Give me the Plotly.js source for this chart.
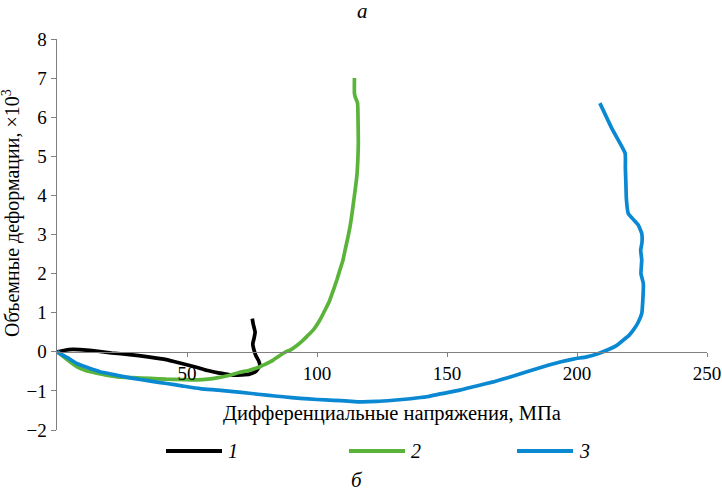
<!DOCTYPE html>
<html>
<head>
<meta charset="utf-8">
<script src="https://cdn.plot.ly/plotly-3.0.1.min.js"></script>
<style>html,body{margin:0;padding:0;background:#fff;}#chart{width:722px;height:497px;}</style>
</head>
<body>
<div id="chart"></div>
<script>
const seriesNames = ['1', '2', '3'];
const colors = ['#000000', '#5ab43a', '#0a88d2'];

const x1 = [0, 3, 6, 10, 15, 21, 28, 35, 42, 48, 54, 58, 62, 65, 68, 71, 74, 76.5, 78, 77.5, 76.5, 75.8, 75.3, 75.8, 76.2, 75.5, 75.1];
const y1 = [0, 0.04, 0.06, 0.05, 0.02, -0.03, -0.07, -0.13, -0.2, -0.3, -0.4, -0.48, -0.54, -0.57, -0.6, -0.59, -0.57, -0.5, -0.36, -0.22, -0.1, 0.04, 0.2, 0.35, 0.5, 0.7, 0.85];

const x2 = [0, 3, 7.6, 11, 15.3, 19, 23, 29, 35.8, 42, 48.6, 54, 58, 62, 66.5, 70, 74, 77, 80, 83, 86, 88, 89.6, 92, 94.7, 96.5, 98.6, 101, 103.1, 104.8, 106.3, 107.6, 108.8, 110, 110.8, 111.8, 112.7, 113.4, 114, 114.7, 115.3, 115.7, 115.9, 115.8, 115.6, 114.8, 114.4, 114.4];
const y2 = [0, -0.15, -0.38, -0.48, -0.55, -0.6, -0.64, -0.66, -0.68, -0.7, -0.71, -0.72, -0.7, -0.66, -0.6, -0.53, -0.47, -0.41, -0.32, -0.22, -0.08, 0, 0.04, 0.15, 0.3, 0.42, 0.56, 0.8, 1.07, 1.3, 1.58, 1.83, 2.09, 2.35, 2.6, 2.9, 3.2, 3.5, 3.8, 4.15, 4.48, 4.9, 5.33, 5.85, 6.36, 6.5, 6.61, 7.0];

const x3 = [0, 4, 7.6, 12, 16.5, 23, 29.3, 36, 42.2, 48, 55, 62, 67.8, 74, 80.6, 87, 93.5, 100, 106.3, 112, 116.5, 123, 129.4, 136, 142.2, 148, 155, 161, 167.8, 174, 180.7, 187, 193.5, 199, 203.7, 208, 211.4, 215, 217.8, 220, 221.7, 223.5, 224.9, 225.3, 225.5, 224.6, 224.9, 224.5, 225, 224.9, 223.5, 221.5, 219.7, 219, 218.8, 218.6, 218.5, 213.5, 208.8];
const y3 = [0, -0.15, -0.3, -0.41, -0.51, -0.6, -0.68, -0.75, -0.81, -0.87, -0.94, -0.98, -1.02, -1.06, -1.11, -1.15, -1.19, -1.22, -1.24, -1.26, -1.28, -1.27, -1.24, -1.2, -1.15, -1.07, -0.98, -0.88, -0.77, -0.65, -0.51, -0.38, -0.26, -0.18, -0.13, -0.05, 0.04, 0.15, 0.3, 0.42, 0.56, 0.75, 0.98, 1.3, 1.75, 2.0, 2.35, 2.6, 2.8, 3.03, 3.25, 3.4, 3.54, 3.9, 4.31, 4.7, 5.08, 5.7, 6.36];

const xTicks = [50, 100, 150, 200, 250];
const xTitle = 'Дифференциальные напряжения, МПа';
const yTitle = 'Объемные деформации, ×10<sup>3</sup>';
const topLabel = 'а';
const bottomLabel = 'б';

const xs = [x1, x2, x3], ys = [y1, y2, y3];
const serif = 'Liberation Serif, Times New Roman, serif';
const traces = xs.map((x, i) => ({
  type: 'scatter', mode: 'lines', x: x, y: ys[i], name: seriesNames[i], showlegend: false,
  line: {color: colors[i], width: 3.7, shape: 'spline', smoothing: 0.4}
}));

// pixel helpers for layout placement (plot area 57..707 x 39..430)
const px = v => (v - 57) / 650;
const py = v => (430 - v) / 391;

// legend drawn as sample lines + labels
const legendStarts = [166, 349, 517];
const legendShapes = legendStarts.map((s, i) => ({
  type: 'line', xref: 'paper', yref: 'paper', x0: px(s), x1: px(s + 56), y0: py(451), y1: py(451),
  line: {color: colors[i], width: 4}
}));
const legendLabels = legendStarts.map((s, i) => ({
  text: seriesNames[i], xref: 'paper', yref: 'paper', x: px(s + 60), y: py(451), showarrow: false,
  xanchor: 'left', yanchor: 'middle', font: {family: serif, size: 20, style: 'italic'}
}));

const layout = {
  width: 722, height: 497,
  margin: {l: 57, r: 15, t: 39, b: 67, autoexpand: false},
  paper_bgcolor: '#fff', plot_bgcolor: '#fff',
  font: {family: serif, size: 17, color: '#000'},
  showlegend: false,
  xaxis: {range: [0, 250], anchor: 'free', position: 0.2, showline: true, linecolor: '#808080', linewidth: 1.5,
          ticks: 'outside', ticklen: 4, tickcolor: '#808080', tickvals: xTicks, showgrid: false, zeroline: false,
          tickfont: {family: serif, size: 19}},
  yaxis: {range: [-2, 8], dtick: 1, showline: true, linecolor: '#808080', linewidth: 1.5, ticks: 'outside',
          ticklen: 5, tickcolor: '#808080', showgrid: false, zeroline: false,
          tickfont: {family: serif, size: 19}},
  shapes: legendShapes,
  annotations: [
    {text: topLabel, xref: 'paper', yref: 'paper', x: px(362), y: py(-2), showarrow: false, borderpad: 0,
     font: {family: serif, size: 21, style: 'italic'}, xanchor: 'center', yanchor: 'top'},
    {text: bottomLabel, xref: 'paper', yref: 'paper', x: px(357), y: py(480), showarrow: false,
     font: {family: serif, size: 21, style: 'italic'}, xanchor: 'center', yanchor: 'middle'},
    {text: xTitle, xref: 'paper', yref: 'paper', x: px(392), y: py(413), showarrow: false,
     font: {family: serif, size: 20.5}, xanchor: 'center', yanchor: 'middle'},
    {text: yTitle, xref: 'paper', yref: 'paper', x: px(11), y: py(213), showarrow: false,
     textangle: -90, font: {family: serif, size: 20}, xanchor: 'center', yanchor: 'middle'}
  ].concat(legendLabels)
};

Plotly.newPlot('chart', traces, layout, {staticPlot: true, displayModeBar: false});
</script>
</body>
</html>
